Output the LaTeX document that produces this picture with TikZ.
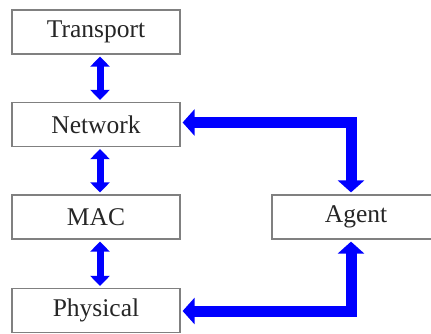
\documentclass[tikz,border=0pt]{standalone}
\usepackage{fontspec}
\setmainfont{Liberation Serif}
\usetikzlibrary{arrows.meta}
\begin{document}
\begin{tikzpicture}[x=1pt,y=-1pt,
  layer/.style={draw=black!50, line width=1.2pt, minimum width=168pt, minimum height=44pt, inner sep=0pt,
    font=\fontsize{25.5}{29}\selectfont, text=black!85},
  smallarrow/.style={draw=blue, line width=7pt,
    {Triangle[width=19pt,length=10pt]}-{Triangle[width=19pt,length=10pt]}, shorten <=2pt, shorten >=2pt},
  bigarrow/.style={draw=blue, line width=11pt, line join=miter,
    {Triangle[width=26pt,length=12pt]}-{Triangle[width=26pt,length=12pt]}, shorten <=2pt, shorten >=2pt}]
\fill[white] (0,0) rectangle (431,333);
\useasboundingbox (0,0) rectangle (431,333);
\node[layer] (tr) at (96,32) {Transport};
\node[layer] (net) at (96,124.5) {Network};
\node[layer] (mac) at (96,217) {MAC};
\node[layer] (phy) at (96,310.5) {Physical};
\node[layer] (ag) at (356,217) {Agent};
\draw[smallarrow] (tr.south -| 100,0) -- (net.north -| 100,0);
\draw[smallarrow] (net.south -| 100,0) -- (mac.north -| 100,0);
\draw[smallarrow] (mac.south -| 100,0) -- (phy.north -| 100,0);
\coordinate (c1) at (351,122.5);
\coordinate (c2) at (351,311);
\draw[bigarrow] (net.east |- c1) -| (ag.north -| c1);
\draw[bigarrow] (phy.east |- c2) -| (ag.south -| c2);
\end{tikzpicture}
\end{document}
